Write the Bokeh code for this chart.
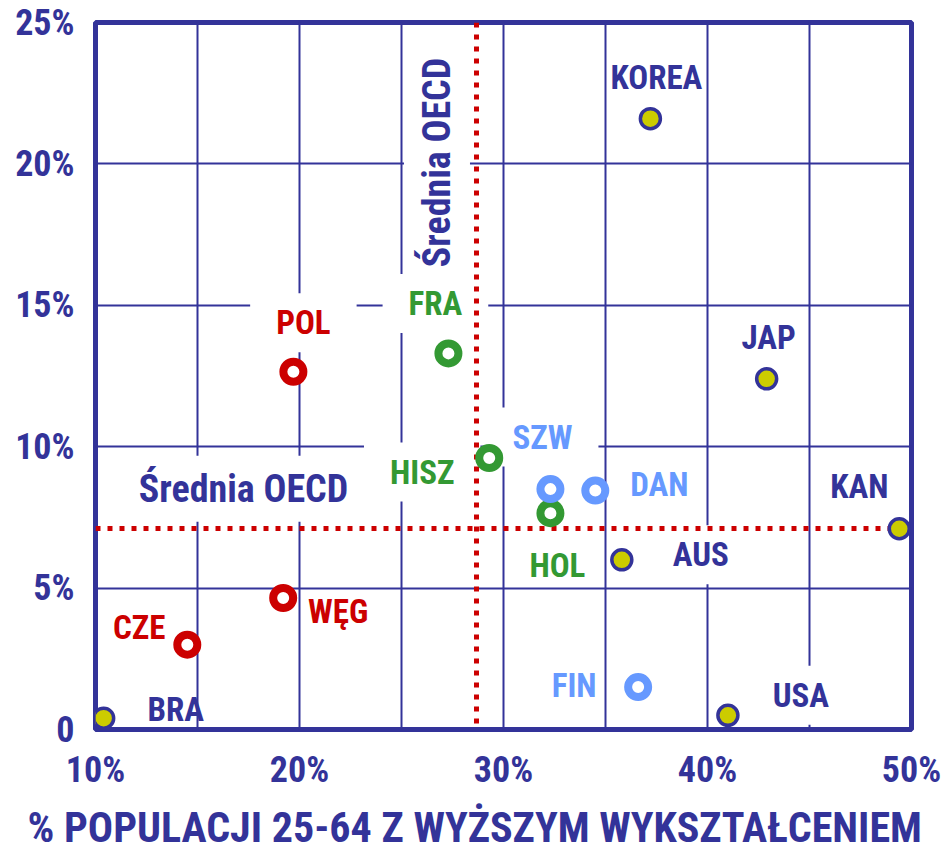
import math
from bokeh.plotting import figure
from bokeh.models import ColumnDataSource, FixedTicker, Title
from bokeh.core.properties import value
from bokeh.embed import file_html
from bokeh.resources import INLINE

# ---------------- data ----------------
countries = ["KOREA", "JAP", "KAN", "AUS", "USA", "BRA", "CZE", "WĘG", "POL",
             "FRA", "HISZ", "HOL", "SZW", "DAN", "FIN"]
higher_ed_share = [37.2, 42.9, 49.4, 35.8, 41.0, 10.4, 14.5, 19.2, 19.7,
                   27.3, 29.3, 32.3, 32.3, 34.5, 36.6]
y_value = [21.6, 12.4, 7.1, 6.0, 0.5, 0.4, 3.0, 4.65, 12.65,
           13.3, 9.6, 7.65, 8.5, 8.45, 1.5]
group = ["other", "other", "other", "other", "other", "other",
         "cee", "cee", "cee",
         "continental", "continental", "continental",
         "nordic", "nordic", "nordic"]
oecd_mean_x = 28.7
oecd_mean_y = 7.1
oecd_label = "Średnia OECD"

x_ticks = [10, 20, 30, 40, 50]
x_tick_labels = ["10%", "20%", "30%", "40%", "50%"]
y_ticks = [0, 5, 10, 15, 20, 25]
y_tick_labels = ["0", "5%", "10%", "15%", "20%", "25%"]
x_title = "% POPULACJI 25-64 Z WYŻSZYM WYKSZTAŁCENIEM"

# ---------------- style ----------------
NAVY = "#333399"
RED = "#cc0000"
GREEN = "#339933"
BLUE = "#6699ff"
YELLOW = "#cccc00"
FONT = "Roboto Condensed"

text_colors = {"other": NAVY, "cee": RED, "continental": GREEN, "nordic": BLUE}
ring_colors = {"cee": RED, "continental": GREEN, "nordic": BLUE}

# label offsets in screen pixels (dx right, dy down)
label_offsets = {
    "KOREA": (6, -41), "JAP": (2, -41), "KAN": (-40, -42), "AUS": (79, -5),
    "USA": (73, -20), "BRA": (72, -9), "CZE": (-48, -17), "WĘG": (55, 14),
    "POL": (10, -49), "FRA": (-13, -50), "HISZ": (-67, 14), "HOL": (7, 52),
    "SZW": (-8, -52), "DAN": (64, -6), "FIN": (-64, -2),
}
boxed_labels = ["POL", "FRA", "HISZ", "SZW", "AUS", "USA"]

W, H = 945, 858
p = figure(width=W, height=H, x_range=(10, 50), y_range=(0, 25),
           output_backend="svg", toolbar_location=None,
           min_border_left=95, min_border_right=W - 911,
           min_border_top=22, min_border_bottom=H - 730)
p.background_fill_color = "white"
p.border_fill_color = "white"
p.outline_line_color = NAVY
p.outline_line_width = 5

# axes
for ax in (p.xaxis[0], p.yaxis[0]):
    ax.axis_line_color = None
    ax.major_tick_line_color = None
    ax.minor_tick_line_color = None
    ax.major_tick_out = 0
    ax.major_tick_in = 0
    ax.major_label_text_font = FONT
    ax.major_label_text_font_style = "bold"
    ax.major_label_text_font_size = "36px"
    ax.major_label_text_color = NAVY

p.xaxis.ticker = FixedTicker(ticks=x_ticks)
p.xaxis.major_label_overrides = dict(zip(x_ticks, x_tick_labels))
p.xaxis.major_label_standoff = 19

p.yaxis.ticker = FixedTicker(ticks=y_ticks)
p.yaxis.major_label_standoff = 21
p.yaxis.major_label_overrides = dict(zip(y_ticks, y_tick_labels))

# grid every 5 %
p.xgrid.ticker = FixedTicker(ticks=list(range(x_ticks[0], x_ticks[-1] + 1, 5)))
p.ygrid.ticker = FixedTicker(ticks=list(range(y_ticks[0], y_ticks[-1] + 1, 5)))
for g in (p.xgrid[0], p.ygrid[0]):
    g.grid_line_color = NAVY
    g.grid_line_width = 2

# x-axis title, set slightly left of the frame centre as in the original
p.add_layout(Title(text=x_title, align="left", offset=-68, standoff=14,
                   text_font=FONT, text_font_style="bold",
                   text_font_size="42px", text_color=NAVY), "below")

# OECD mean labels (drawn first, under the country labels)
mean_kw = dict(text_color=NAVY, text_font=value(FONT), text_font_style="bold",
               text_font_size="38px", text_align="center", text_baseline="middle",
               background_fill_color="white",
               padding=dict(left=10, right=10, top=11, bottom=11))
p.text(x=[x_ticks[0]], y=[oecd_mean_y], text=[oecd_label],
       x_offset=148, y_offset=-40, **mean_kw)
p.text(x=[oecd_mean_x], y=[y_ticks[-1]], text=[oecd_label],
       x_offset=-40, y_offset=140, angle=math.pi / 2, **mean_kw)

# country labels
def label_source(names):
    idx = [countries.index(n) for n in names]
    return ColumnDataSource(dict(
        x=[higher_ed_share[i] for i in idx],
        y=[y_value[i] for i in idx],
        text=[countries[i] for i in idx],
        color=[text_colors[group[i]] for i in idx],
        dx=[label_offsets[countries[i]][0] for i in idx],
        dy=[label_offsets[countries[i]][1] for i in idx],
    ))

label_kw = dict(x="x", y="y", text="text", x_offset="dx", y_offset="dy",
                text_color="color", text_font=value(FONT), text_font_style="bold",
                text_font_size="33px", text_align="center", text_baseline="middle")

plain = [c for c in countries if c not in boxed_labels]
p.text(source=label_source(plain), **label_kw)
p.text(source=label_source(boxed_labels), background_fill_color="white",
       padding=dict(left=26, right=26, top=10, bottom=10), **label_kw)

# OECD mean lines
p.vspan(x=[oecd_mean_x], line_color=RED, line_width=5, line_dash="5 7")
p.hspan(y=[oecd_mean_y], line_color=RED, line_width=5, line_dash="5 7")

# markers
oth = [i for i, g in enumerate(group) if g == "other"]
p.scatter(x=[higher_ed_share[i] for i in oth], y=[y_value[i] for i in oth],
          size=20, fill_color=YELLOW, line_color=NAVY, line_width=3.5)
for gname, col in ring_colors.items():
    ids = [i for i, g in enumerate(group) if g == gname]
    p.scatter(x=[higher_ed_share[i] for i in ids], y=[y_value[i] for i in ids],
              size=20, fill_color="white", line_color=col, line_width=8)

open("out.html", "w").write(file_html(p, INLINE))
